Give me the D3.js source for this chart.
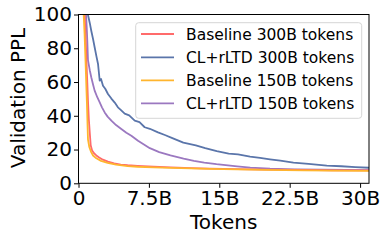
<!DOCTYPE html>
<html><head><meta charset="utf-8">
<script src="https://cdn.jsdelivr.net/npm/d3@7"></script>
<style>html,body{margin:0;padding:0;background:#fff;}svg{display:block;font-family:"DejaVu Sans",sans-serif;}</style>
</head><body>
<script>
const seriesNames = ["Baseline 300B tokens","CL+rLTD 300B tokens","Baseline 150B tokens","CL+rLTD 150B tokens"];
const seriesColors = ["#ff6b6b","#5a75aa","#ffb52e","#9b78c0"];
const xTickVals = [0,7.5,15,22.5,30];
const xTickLabels = ["0","7.5B","15B","22.5B","30B"];
const yTickVals = [0,20,40,60,80,100];

const baseline300X = [0.66,0.75,0.85,0.95,1.01,1.1,1.2,1.3,1.45,1.65,1.9,2.2,2.6,3.14,3.8,4.5,5.24,6.3,8,9.83,12,14,16.9,20,24,27,30.95];
const baseline300Y = [100,88,72,58,49,38,30,22.5,19.5,17.8,16.5,15.3,14,12.8,11.8,11.1,10.7,10.3,9.8,9.4,9.0,8.7,8.4,8.1,7.9,7.7,7.6];

const clrltd300X = [1.0,1.2,1.36,1.55,1.72,1.9,2.08,2.2,2.26,2.4,2.61,2.85,3.14,3.5,3.86,4.2,4.5,4.92,5.4,5.99,6.5,7.05,7.6,8.47,9.2,10,11.17,12.5,13.5,14.73,16,17,18.28,19.34,20.4,21.5,22.9,24.5,26.45,28,29.5,30.95];
const clrltd300Y = [100,95,90.4,85.5,80.6,75.5,70.7,64,60.8,61.8,57.8,56,52.9,50.2,47.8,45,43.5,41.3,40.2,37.1,36.2,33.2,32.3,30.2,28.6,26.8,24.1,22.4,20.8,19,17.6,17.1,15.8,15.1,14.2,13.4,12.3,11.5,10.5,10.1,9.6,9.2];

const baseline150X = [0.55,0.65,0.75,0.85,0.9,0.96,1.01,1.15,1.35,1.55,1.9,2.4,3.1,4,5.24,6.3,8,9.83,12,14,16.9,20,24,27,30.95];
const baseline150Y = [100,88,72,55,47,35,26,21.5,18.5,16.5,14.8,13.3,12.1,11.1,10.2,9.8,9.4,9.1,8.8,8.5,8.2,7.9,7.7,7.5,7.4];

const clrltd150X = [0.8,0.88,0.94,1.01,1.2,1.36,1.55,1.72,2.0,2.26,2.5,2.79,3.1,3.5,4.0,4.56,5.1,5.63,6.34,7.6,8.6,9.8,11.2,12.3,13.4,14.7,16.9,18.3,20.4,23,26,28.5,30.95];
const clrltd150Y = [100,92,84,73,67,62.8,58.5,54.9,51,48,45,42,39.5,37.1,34.5,32.2,30,28.2,25.2,20.8,18.5,16.5,14.6,13.3,12.3,11.3,10,9.3,8.7,8.3,8.1,7.9,7.8];

const seriesX = [baseline300X, clrltd300X, baseline150X, clrltd150X];
const seriesY = [baseline300Y, clrltd300Y, baseline150Y, clrltd150Y];

const W = 388, H = 241;
const L = 78.5, R = 369, T = 14.5, B = 183.3;
const svg = d3.select("body").append("svg").attr("width", W).attr("height", H);
const x = d3.scaleLinear().domain([0, 30.95]).range([L, R]);
const y = d3.scaleLinear().domain([0, 100]).range([B, T]);

svg.append("defs").append("clipPath").attr("id","clip")
  .append("rect").attr("x", L).attr("y", T).attr("width", R - L).attr("height", B - T);

const line = d3.line().x(d => x(d[0])).y(d => y(d[1]));
const g = svg.append("g").attr("clip-path", "url(#clip)");
[1,3,0,2].forEach(i => {
  const pts = seriesX[i].map((v, j) => [v, seriesY[i][j]]);
  g.append("path").datum(pts).attr("d", line)
    .attr("fill", "none").attr("stroke", seriesColors[i]).attr("stroke-width", 1.8)
    .attr("stroke-linejoin", "round");
});

svg.append("rect").attr("x", L).attr("y", T).attr("width", R - L).attr("height", B - T)
  .attr("fill", "none").attr("stroke", "#000").attr("stroke-width", 1);

const xAxis = d3.axisBottom(x).tickValues(xTickVals).tickFormat((d, i) => xTickLabels[i]).tickSize(4.5).tickPadding(3);
const xa = svg.append("g").attr("transform", `translate(0,${B})`).call(xAxis);
xa.select(".domain").remove();
xa.selectAll("text").attr("font-size", 20).attr("fill", "#000").attr("font-family", "DejaVu Sans").attr("dy", "0.71em");
xa.selectAll("line").attr("stroke", "#000");

const yAxis = d3.axisLeft(y).tickValues(yTickVals).tickSize(4.5).tickPadding(2);
const ya = svg.append("g").attr("transform", `translate(${L},0)`).call(yAxis);
ya.select(".domain").remove();
ya.selectAll("text").attr("font-size", 20).attr("fill", "#000").attr("font-family", "DejaVu Sans");
ya.selectAll("line").attr("stroke", "#000");

svg.append("text").attr("x", x(15.47)).attr("y", 229).attr("text-anchor", "middle")
  .attr("font-size", 20).text("Tokens");
svg.append("text").attr("transform", "translate(24.5,98) rotate(-90)").attr("text-anchor", "middle")
  .attr("font-size", 20).text("Validation PPL");

const lg = svg.append("g");
lg.append("rect").attr("x", 135.7).attr("y", 22.7).attr("width", 226).attr("height", 95.6)
  .attr("rx", 3).attr("fill", "#fff").attr("fill-opacity", 0.85).attr("stroke", "#d6d6d6").attr("stroke-width", 1);
const rowY = [34, 57.3, 80.3, 103.3];
seriesNames.forEach((n, i) => {
  lg.append("line").attr("x1", 141).attr("x2", 174).attr("y1", rowY[i]).attr("y2", rowY[i])
    .attr("stroke", seriesColors[i]).attr("stroke-width", 1.8);
  lg.append("text").attr("x", 186).attr("y", rowY[i]).attr("dy", "0.36em")
    .attr("font-size", 15.5).attr("fill", "#000").text(n);
});
</script>
</body></html>
